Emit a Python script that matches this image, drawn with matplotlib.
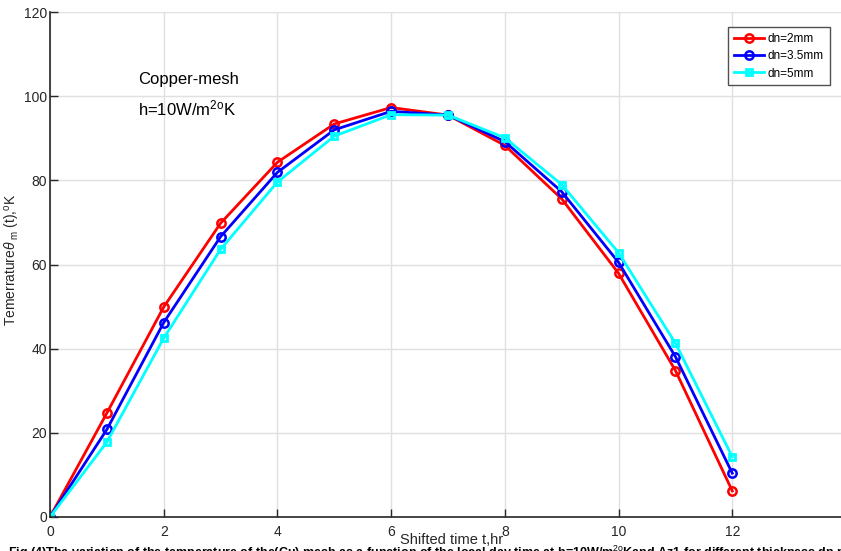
import matplotlib
matplotlib.use("Agg")
import matplotlib.pyplot as plt
from matplotlib import font_manager

plt.rcParams["font.family"] = ["Liberation Sans", "DejaVu Sans"]
plt.rcParams["mathtext.fontset"] = "custom"
plt.rcParams["mathtext.rm"] = "Liberation Sans"
plt.rcParams["mathtext.it"] = "Liberation Sans:italic"

names = {f.name for f in font_manager.fontManager.ttflist}
NARROW = "Liberation Sans Narrow" if "Liberation Sans Narrow" in names else "Liberation Sans"

hours = [0, 1, 2, 3, 4, 5, 6, 7, 8, 9, 10, 11, 12]
temp_dn2 = [0, 24.7, 49.9, 69.8, 84.3, 93.4, 97.3, 95.5, 88.3, 75.6, 57.9, 34.8, 6.2]
temp_dn35 = [0, 20.8, 46.2, 66.6, 81.9, 92.0, 96.4, 95.5, 89.2, 77.3, 60.5, 38.1, 10.4]
temp_dn5 = [0, 17.8, 42.5, 63.6, 79.6, 90.5, 95.6, 95.5, 90.1, 79.0, 62.8, 41.3, 14.3]
series_labels = ["dn=2mm", "dn=3.5mm", "dn=5mm"]

xticks = [0, 2, 4, 6, 8, 10, 12]
yticks = [0, 20, 40, 60, 80, 100, 120]

fig = plt.figure(figsize=(8.41, 5.51), dpi=100)
ax = fig.add_axes([50 / 841, 34 / 551, 796 / 841, 505 / 551])

ax.plot(hours, temp_dn2, color="#ff0000", linewidth=2, marker="o", markersize=6,
        markerfacecolor="none", markeredgewidth=1.8, label=series_labels[0])
ax.plot(hours, temp_dn35, color="#0000ff", linewidth=2, marker="o", markersize=6,
        markerfacecolor="none", markeredgewidth=1.8, label=series_labels[1])
ax.plot(hours, temp_dn5, color="#00ffff", linewidth=2, marker="s", markersize=5,
        markerfacecolor="none", markeredgewidth=2, label=series_labels[2])

ax.set_xlim(0, 14)
ax.set_ylim(0, 120)
ax.set_xticks(xticks)
ax.set_yticks(yticks)
ax.grid(True, color="#e0e0e0", linewidth=1)
ax.set_axisbelow(True)
ax.tick_params(direction="in", length=6, width=1, labelsize=10, colors="#262626")
ax.tick_params(axis="x", pad=6)
ax.tick_params(axis="y", pad=2)
for lab in ax.get_xticklabels() + ax.get_yticklabels():
    lab.set_family(NARROW)
for side in ("top", "right"):
    ax.spines[side].set_visible(False)
for side in ("left", "bottom"):
    ax.spines[side].set_color("#262626")
    ax.spines[side].set_linewidth(1.2)

ax.set_ylabel(r"Temerrature$\theta_{\ \rm m}$ (t),$^{\rm o}$K", fontsize=10, color="#262626")
ax.yaxis.set_label_coords(-28 / 796, 0.51)
fig.text(452 / 841, 1 - 540 / 551, "Shifted time t,hr", ha="center", va="center", fontsize=10.5,
         color="#262626", family=NARROW)

ax.text(1.55, 104, "Copper-mesh", fontsize=12, ha="left", va="center")
ax.text(1.55, 97, r"h=10W/m$^{\rm 2o}$K", fontsize=12, ha="left", va="center")

leg = ax.legend(loc="upper right", prop={"family": NARROW, "size": 8.5}, frameon=True, fancybox=False,
                edgecolor="#262626", handlelength=2.6, handletextpad=0.3, borderpad=0.5,
                labelspacing=0.45, borderaxespad=0)
leg.get_frame().set_linewidth(1)
leg.set_bbox_to_anchor((830 / 841, 1 - 27 / 551), transform=fig.transFigure)

fig.text(8 / 841, 1 - 544 / 551,
         r"Fig (4)The variation of the temperature of the(Cu) mesh as a function of the local day time at h=10W/m$^{\rm 2o}$Kand Az1 for different thickness dn,m of the mesh",
         ha="left", va="top", fontsize=9, fontweight="bold")

fig.savefig("out.png", dpi=100)
